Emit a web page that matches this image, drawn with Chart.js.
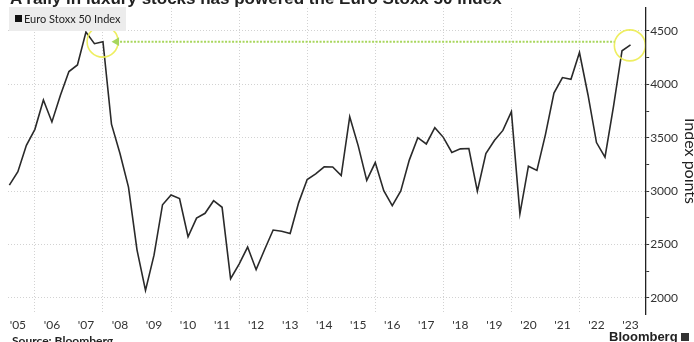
<!DOCTYPE html>
<html>
<head>
<meta charset="utf-8">
<script src="https://cdn.jsdelivr.net/npm/chart.js@4.4.1/dist/chart.umd.min.js"></script>
<style>
html,body{margin:0;padding:0;width:694px;height:342px;overflow:hidden;background:#fff;}
#wrap{position:relative;width:694px;height:342px;overflow:hidden;}
#c{position:absolute;left:0;top:0;}
.headline{position:absolute;left:10px;top:-11px;font:bold 17px 'Liberation Sans',Arial,sans-serif;color:#222;white-space:nowrap;line-height:20px;}
.legend{position:absolute;left:9px;top:7px;width:117px;height:24px;background:#ececec;font:11px Lato,sans-serif;color:#222;}
.legend .sw{position:absolute;left:6px;top:8px;width:7px;height:7px;background:#111;}
.legend .tx{position:absolute;left:15px;top:4px;line-height:16px;white-space:nowrap;}
.source{position:absolute;left:12px;top:334px;font:bold 12px Lato,sans-serif;color:#222;line-height:14px;white-space:nowrap;}
.brand{position:absolute;left:609px;top:329px;font:bold 13px 'Liberation Sans',Arial,sans-serif;color:#222;line-height:16px;white-space:nowrap;}
.brand .ic{display:inline-block;width:8px;height:8px;background:#333;margin-left:3px;vertical-align:0px;}
</style>
</head>
<body>
<div id="wrap">
<canvas id="c" width="698" height="342"></canvas>
<div class="headline">A rally in luxury stocks has powered the Euro Stoxx 50 index</div>
<div class="legend"><span class="sw"></span><span class="tx">Euro Stoxx 50 Index</span></div>
<div class="source">Source: Bloomberg</div>
<div class="brand">Bloomberg<span class="ic"></span></div>
</div>
<script>
// Quarter-end observations (year, quarter)
const quarters = [
 "2005Q1","2005Q2","2005Q3","2005Q4",
 "2006Q1","2006Q2","2006Q3","2006Q4",
 "2007Q1","2007Q2","2007Q3","2007Q4",
 "2008Q1","2008Q2","2008Q3","2008Q4",
 "2009Q1","2009Q2","2009Q3","2009Q4",
 "2010Q1","2010Q2","2010Q3","2010Q4",
 "2011Q1","2011Q2","2011Q3","2011Q4",
 "2012Q1","2012Q2","2012Q3","2012Q4",
 "2013Q1","2013Q2","2013Q3","2013Q4",
 "2014Q1","2014Q2","2014Q3","2014Q4",
 "2015Q1","2015Q2","2015Q3","2015Q4",
 "2016Q1","2016Q2","2016Q3","2016Q4",
 "2017Q1","2017Q2","2017Q3","2017Q4",
 "2018Q1","2018Q2","2018Q3","2018Q4",
 "2019Q1","2019Q2","2019Q3","2019Q4",
 "2020Q1","2020Q2","2020Q3","2020Q4",
 "2021Q1","2021Q2","2021Q3","2021Q4",
 "2022Q1","2022Q2","2022Q3","2022Q4",
 "2023Q1","2023Q2"
];
const indexValues = [
 3056,3182,3429,3579,
 3854,3648,3899,4120,
 4182,4489,4381,4400,
 3628,3353,3038,2451,
 2071,2401,2873,2965,
 2931,2573,2748,2793,
 2911,2849,2180,2317,
 2477,2265,2454,2636,
 2624,2603,2893,3109,
 3162,3228,3226,3146,
 3697,3424,3101,3268,
 3005,2865,3002,3291,
 3501,3442,3595,3504,
 3362,3396,3399,3001,
 3352,3474,3569,3745,
 2787,3234,3194,3530,
 3919,4064,4048,4298,
 3903,3455,3318,3794,
 4315,4370
];
const xTickLabels = ["'05","'06","'07","'08","'09","'10","'11","'12","'13","'14","'15","'16","'17","'18","'19","'20","'21","'22","'23"];
const yTickLabels = [2000,2500,3000,3500,4000,4500];
// Annotations (data space)
const circleX = [2007.99, 2023.48];
const circleY = [4400, 4365];
const arrowX = [2008.4, 2023.03];
const arrowY = [4400, 4400];

const toYear = q => parseInt(q.slice(0,4)) + parseInt(q.slice(5)) / 4;
const series = quarters.map((q,i) => ({x: toYear(q), y: indexValues[i]}));
const circles = circleX.map((x,i) => ({x, y: circleY[i]}));
const arrow = arrowX.map((x,i) => ({x, y: arrowY[i]}));
const firstYear = 2005;

new Chart(document.getElementById('c'), {
  type: 'line',
  data: {
    datasets: [
      {
        label: 'arrow', data: arrow, borderColor: '#a8d65c', borderWidth: 2,
        borderDash: [2,1.5], pointRadius: [5,0], pointStyle: 'triangle',
        pointRotation: -90, pointBackgroundColor: '#a8d65c', pointBorderColor: '#a8d65c',
        pointBorderWidth: 0, tension: 0
      },
      {
        label: 'circles', data: circles, showLine: false, pointRadius: 15.5,
        pointStyle: 'circle', pointBorderColor: 'rgba(236,236,80,0.9)',
        pointBackgroundColor: 'rgba(0,0,0,0)', pointBorderWidth: 1.6
      },
      {
        label: 'Euro Stoxx 50 Index', data: series, borderColor: '#2a2a2a',
        borderWidth: 1.6, pointRadius: 0, tension: 0
      }
    ]
  },
  options: {
    responsive: false,
    animation: false,
    devicePixelRatio: 1,
    layout: {autoPadding: false, padding: {top: 8, left: 8, right: 0, bottom: 5.6}},
    plugins: {legend: {display: false}, tooltip: {enabled: false}},
    scales: {
      x: {
        type: 'linear', min: 2005.21, max: 2023.93,
        afterBuildTicks: axis => {
          const t = [];
          xTickLabels.forEach((l,i) => t.push({value: firstYear + i + 0.5}));
          for (let y = 2006; y <= 2022; y += 2) t.push({value: y});
          t.sort((a,b) => a.value - b.value);
          axis.ticks = t;
        },
        afterFit: axis => { axis.paddingLeft = 0; axis.paddingRight = 0; },
        ticks: {
          autoSkip: false, maxRotation: 0, padding: 4,
          color: '#333', font: {family: 'Lato', size: 12},
          callback: v => (Math.abs(v % 1 - 0.5) < 1e-6) ? xTickLabels[Math.round(v - 0.5 - firstYear)] : ''
        },
        grid: {
          drawTicks: false, lineWidth: 1,
          color: ctx => (ctx.tick && Math.abs(ctx.tick.value % 1) < 1e-6) ? '#d2d2d2' : 'rgba(0,0,0,0)'
        },
        border: {display: false, dash: [1,2]}
      },
      y: {
        position: 'right', min: 1850, max: 4715,
        afterBuildTicks: axis => {
          const t = [];
          for (let v = yTickLabels[0]; v <= yTickLabels[yTickLabels.length-1]; v += 250) t.push({value: v});
          axis.ticks = t;
        },
        afterFit: axis => { axis.paddingTop = 0; axis.paddingBottom = 0; },
        ticks: {
          padding: 1, color: '#333', font: {family: 'Lato', size: 12},
          callback: v => yTickLabels.includes(v) ? String(v) : ''
        },
        grid: {
          tickLength: 4, tickColor: '#333', lineWidth: 1,
          color: ctx => (ctx.tick && yTickLabels.includes(ctx.tick.value)) ? '#d2d2d2' : 'rgba(0,0,0,0)'
        },
        border: {display: true, color: '#222', width: 1.3, dash: [1,2]},
        title: {display: true, text: 'Index points', color: '#222', font: {family: 'Lato', size: 16, lineHeight: 1}, padding: {top: 0, bottom: 3}}
      }
    }
  }
});
</script>
</body>
</html>
